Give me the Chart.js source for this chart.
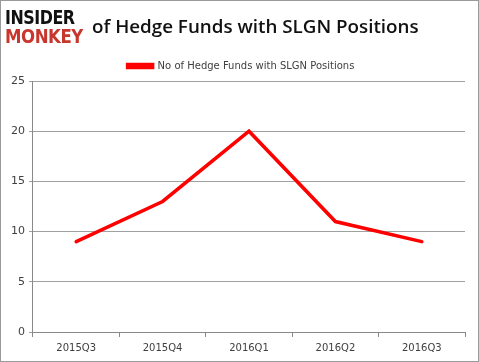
<!DOCTYPE html>
<html><head><meta charset="utf-8">
<script src="https://cdn.jsdelivr.net/npm/chart.js@4"></script>
<style>
html,body{margin:0;padding:0;background:#fff;}
#wrap{position:relative;width:479px;height:362px;box-sizing:border-box;border:1px solid #9a9a9a;overflow:hidden;}
canvas{position:absolute;left:0;top:0;}
.logo{position:absolute;left:4px;font-family:"DejaVu Sans Condensed","DejaVu Sans";font-weight:bold;font-size:19px;line-height:19px;letter-spacing:-0.5px;transform-origin:0 0;}
#l1{top:7px;color:#111;transform:scaleX(0.93);}
#l2{top:26px;color:#c8372d;transform:scaleX(0.97);}
#title{position:absolute;left:91px;top:13px;font-family:"Open Sans";font-weight:600;font-size:18.8px;line-height:24px;color:#111;white-space:nowrap;}
</style></head>
<body><div id="wrap">
<canvas id="c" width="477" height="360"></canvas>
<div class="logo" id="l1">INSIDER</div>
<div class="logo" id="l2">MONKEY</div>
<div id="title">of Hedge Funds with SLGN Positions</div>
</div>
<script>
const categories = ["2015Q3","2015Q4","2016Q1","2016Q2","2016Q3"];
const hedgeFunds = [9, 13, 20, 11, 9];
const seriesName = "No of Hedge Funds with SLGN Positions";

const legendShift = {
  id: 'legendShift',
  afterLayout(chart) {
    const lg = chart.legend;
    if (lg) { lg.left += 5; lg.right += 5; }
  }
};

new Chart(document.getElementById('c'), {
  type: 'line',
  data: {
    labels: categories,
    datasets: [{
      label: seriesName,
      data: hedgeFunds,
      borderColor: '#ff0000',
      backgroundColor: '#ff0000',
      borderWidth: 3.5,
      pointRadius: 0,
      tension: 0,
      borderCapStyle: 'round'
    }]
  },
  plugins: [legendShift],
  options: {
    responsive: false,
    animation: false,
    layout: { padding: { top: 51, left: 6, right: 13, bottom: 2 } },
    plugins: {
      tooltip: { enabled: false },
      legend: {
        position: 'top',
        labels: {
          boxWidth: 25, boxHeight: 3, color: '#404040',
          font: { family: 'DejaVu Sans', size: 10 }, padding: 9
        }
      }
    },
    scales: {
      x: {
        offset: true,
        grid: { offset: true, drawOnChartArea: false, drawTicks: true, tickLength: 5, color: '#888' },
        border: { color: '#888' },
        ticks: { color: '#404040', font: { family: 'DejaVu Sans', size: 10 }, padding: 5 }
      },
      y: {
        min: 0, max: 25,
        ticks: { stepSize: 5, color: '#404040', font: { family: 'DejaVu Sans', size: 11 }, padding: 4 },
        grid: { color: '#a0a0a0', tickLength: 4 },
        border: { color: '#888' }
      }
    }
  }
});
</script>
</body></html>
